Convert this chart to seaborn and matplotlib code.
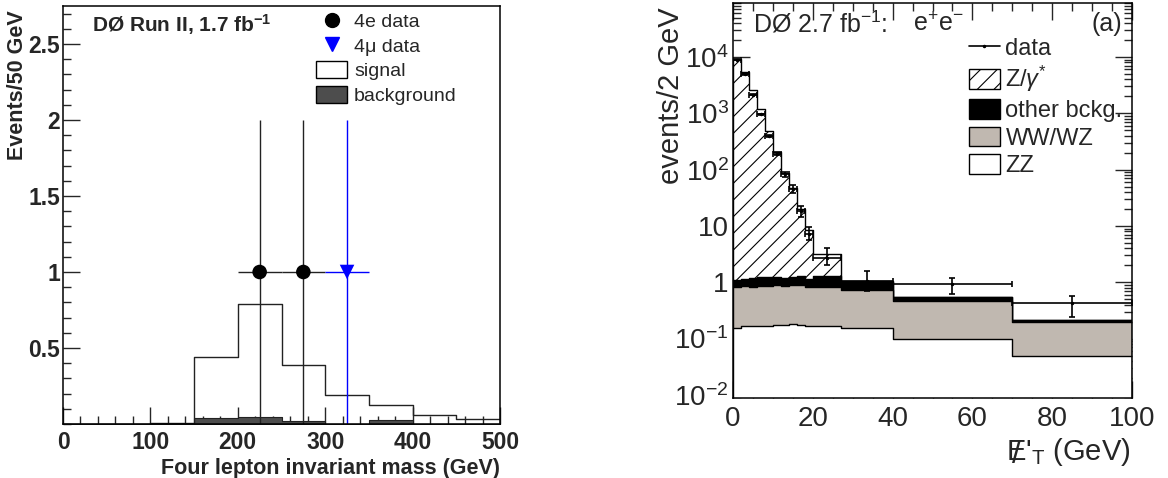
import numpy as np
import pandas as pd
import matplotlib
matplotlib.use("Agg")
import matplotlib.pyplot as plt
import seaborn as sns
from matplotlib.ticker import MultipleLocator, FixedLocator, LogLocator, FuncFormatter, NullFormatter
from matplotlib.patches import Patch
from matplotlib.lines import Line2D

# ---- left panel: four lepton invariant mass ----
mass_edges = [0, 50, 100, 150, 200, 250, 300, 350, 400, 450, 500]
signal = [0, 0, 0.006, 0.44, 0.79, 0.39, 0.19, 0.125, 0.06, 0.03]
background = [0, 0, 0, 0.037, 0.044, 0.022, 0, 0.024, 0, 0]
e4_mass = [225, 275]
e4_events = [1, 1]
mu4_mass = [325]
mu4_events = [1]

# ---- right panel: missing ET, ee channel ----
met_edges = [0, 2, 4, 6, 8, 10, 12, 14, 16, 18, 20, 27, 40, 70, 100]
zgamma = [9300, 5400, 2630, 1180, 490, 204, 86, 46, 19, 7.3, 1.9, 0.03, 0.005, 0.002]
other_bkg = [0.28, 0.30, 0.37, 0.39, 0.39, 0.37, 0.33, 0.37, 0.40, 0.31, 0.47, 0.29, 0.08, 0.015]
wwwz = [0.665, 0.685, 0.66, 0.695, 0.695, 0.705, 0.695, 0.70, 0.725, 0.67, 0.66, 0.575, 0.37, 0.15]
zz = [0.155, 0.165, 0.17, 0.165, 0.165, 0.175, 0.175, 0.18, 0.175, 0.17, 0.17, 0.155, 0.10, 0.05]
data_met = [9000, 4900, 2150, 960, 400, 193, 82, 45, 18.5, 7.3, 2.7, 1.05, 0.92, 0.42]
data_err_lo = [95, 70, 46, 31, 20, 14, 9, 7, 4, 1.7, 0.7, 0.36, 0.29, 0.175]
data_err_hi = [95, 70, 46, 31, 20, 14, 9, 8, 4.3, 2.3, 1.4, 0.52, 0.26, 0.155]

sns.set_theme(style="ticks")
plt.rcParams["font.family"] = ["Liberation Sans", "DejaVu Sans"]
plt.rcParams["mathtext.fontset"] = "custom"
plt.rcParams["mathtext.rm"] = "Liberation Sans"
plt.rcParams["mathtext.it"] = "Liberation Sans:italic"
plt.rcParams["mathtext.bf"] = "Liberation Sans:bold"
plt.rcParams["hatch.linewidth"] = 0.8

fig = plt.figure(figsize=(11.68, 4.78), dpi=100)
W, H = 1168, 478
axl = fig.add_axes([63 / W, 1 - 424 / H, 437 / W, 418 / H])
axr = fig.add_axes([733 / W, 1 - 398 / H, 399 / W, 395 / H])

# ---------------- left ----------------
mass_centers = 0.5 * (np.array(mass_edges[:-1]) + np.array(mass_edges[1:]))
sns.histplot(x=mass_centers, weights=signal, bins=mass_edges, element="step",
             fill=False, color="#222222", linewidth=1.0, ax=axl)
sns.histplot(x=mass_centers, weights=background, bins=mass_edges, element="step",
             fill=True, color="#4d4d4d", alpha=1, edgecolor="#222222", linewidth=0.8, ax=axl)

axl.errorbar(e4_mass, e4_events, xerr=25, yerr=1, fmt="none", ecolor="#222222", elinewidth=1.0)
axl.errorbar(mu4_mass, mu4_events, xerr=25, yerr=1, fmt="none", ecolor="#0000ff", elinewidth=1.0)
sns.scatterplot(x=e4_mass, y=e4_events, marker="o", s=110, color="black", edgecolor="none", ax=axl, zorder=5)
sns.scatterplot(x=mu4_mass, y=mu4_events, marker="v", s=110, color="#0000ff", edgecolor="none", ax=axl, zorder=5)

axl.set_xlim(0, 500)
axl.set_ylim(0, 2.75)
axl.xaxis.set_major_locator(MultipleLocator(100))
axl.xaxis.set_minor_locator(MultipleLocator(20))
axl.yaxis.set_major_locator(FixedLocator([0.5, 1, 1.5, 2, 2.5]))
axl.yaxis.set_minor_locator(MultipleLocator(0.1))
axl.yaxis.set_major_formatter(FuncFormatter(lambda v, p: f"{v:g}"))
axl.tick_params(which="both", direction="in", top=False, right=False, labelsize=16.5)
axl.tick_params(which="major", length=12, width=1, pad=5)
axl.tick_params(which="minor", length=6, width=1)
axl.tick_params(axis="y", pad=2)
for lab in axl.get_xticklabels() + axl.get_yticklabels():
    lab.set_fontweight("bold")
axl.set_xlabel("")
axl.set_ylabel("")
axl.xaxis.label.set_visible(False)
axl.yaxis.label.set_visible(False)
for sp in axl.spines.values():
    sp.set_linewidth(1.1)
    sp.set_color("black")

axl.text(0.066, 0.955, r"DØ Run II, 1.7 fb$^{\mathbf{-1}}$", transform=axl.transAxes,
         fontsize=15, fontweight="bold", va="center", ha="left")

left_handles = [
    Line2D([], [], linestyle="none", marker="o", markersize=10, color="black"),
    Line2D([], [], linestyle="none", marker="v", markersize=10, color="#0000ff"),
    Patch(facecolor="white", edgecolor="black", linewidth=1),
    Patch(facecolor="#4d4d4d", edgecolor="black", linewidth=1),
]
axl.legend(left_handles, ["4e data", "4\u03bc data", "signal", "background"],
           loc="upper left", bbox_to_anchor=(0.579, 0.985), frameon=False, fontsize=14,
           handlelength=1.6, handleheight=0.95, handletextpad=0.35, labelspacing=0.28,
           borderpad=0, borderaxespad=0)

fig.text(18 / W, 1 - 10 / H, "Events/50 GeV", rotation=90, ha="center", va="top",
         fontsize=15.5, fontweight="bold")
fig.text(500 / W, 1 - 474 / H, "Four lepton invariant mass (GeV)", ha="right", va="baseline",
         fontsize=15.5, fontweight="bold")

# ---------------- right ----------------
met_centers = 0.5 * (np.array(met_edges[:-1]) + np.array(met_edges[1:]))
met_half = 0.5 * np.diff(met_edges)
stack = pd.DataFrame({"ZZ": zz, "WW/WZ": wwwz, "other": other_bkg, "Z": zgamma}).cumsum(axis=1)

layers = [("Z", "white", "//"), ("other", "black", None), ("WW/WZ", "#c0b8b0", None), ("ZZ", "white", None)]
for name, col, hatch in layers:
    n0 = len(axr.collections)
    sns.histplot(x=met_centers, weights=stack[name].values, bins=met_edges, element="step",
                 fill=True, color=col, alpha=1, edgecolor="black", linewidth=1.0, ax=axr)
    if hatch:
        for c in axr.collections[n0:]:
            c.set_hatch(hatch)
            c.set_facecolor("white")
            c.set_edgecolor("black")

axr.errorbar(met_centers, data_met, xerr=met_half, yerr=[data_err_lo, data_err_hi],
             fmt=".", markersize=3, color="black", ecolor="black", elinewidth=1.2,
             capsize=2.5, capthick=1.2, zorder=6)

axr.set_yscale("log")
axr.set_xlim(0, 100)
axr.set_ylim(0.0088, 9.1e4)
axr.xaxis.set_major_locator(MultipleLocator(20))
axr.xaxis.set_minor_locator(MultipleLocator(5))
axr.yaxis.set_major_locator(LogLocator(base=10, numticks=20))
axr.yaxis.set_minor_locator(LogLocator(base=10, subs=np.arange(2, 10), numticks=20))
axr.yaxis.set_minor_formatter(NullFormatter())


def log_label(v, pos):
    e = int(round(np.log10(v)))
    if e == 0:
        return "1"
    if e == 1:
        return "10"
    return rf"$10^{{{e}}}$"


axr.yaxis.set_major_formatter(FuncFormatter(log_label))
axr.tick_params(which="both", direction="in", top=True, right=True, labelsize=20)
axr.tick_params(which="major", length=12, width=1)
axr.tick_params(which="minor", length=6, width=1)
axr.tick_params(axis="x", pad=6)
axr.tick_params(axis="y", pad=3)
axr.set_xlabel("")
axr.set_ylabel("")
axr.xaxis.label.set_visible(False)
axr.yaxis.label.set_visible(False)
for sp in axr.spines.values():
    sp.set_linewidth(1.1)
    sp.set_color("black")

axr.text(0.05, 0.947, r"DØ 2.7 fb$^{-1}$:", transform=axr.transAxes, fontsize=18,
         va="center", ha="left")
axr.text(0.451, 0.947, r"e$^{+}$e$^{-}$", transform=axr.transAxes, fontsize=18,
         va="center", ha="left")
axr.text(0.975, 0.947, "(a)", transform=axr.transAxes, fontsize=18, va="center", ha="right")

right_handles = [
    Line2D([], [], color="black", linewidth=1.2, marker=".", markersize=3),
    Patch(facecolor="white", edgecolor="black", hatch="//", linewidth=1),
    Patch(facecolor="black", edgecolor="black", linewidth=1),
    Patch(facecolor="#c0b8b0", edgecolor="black", linewidth=1),
    Patch(facecolor="white", edgecolor="black", linewidth=1),
]
axr.legend(right_handles, ["data", r"Z/$\gamma^{*}$", "other bckg.", "WW/WZ", "ZZ"],
           loc="upper left", bbox_to_anchor=(0.591, 0.915), frameon=False, fontsize=17,
           handlelength=1.3, handleheight=0.9, handletextpad=0.25, labelspacing=0.2,
           borderpad=0, borderaxespad=0)

fig.text(671 / W, 1 - 7 / H, "events/2 GeV", rotation=90, ha="center", va="top", fontsize=21)

# missing ET label: E with a slash drawn over it
xlab = fig.text(1131 / W, 1 - 460 / H, r"E$'_{\mathrm{T}}$ (GeV)", ha="right",
                va="baseline", fontsize=21)
renderer = fig.canvas.get_renderer()
bb = xlab.get_window_extent(renderer)
fig.text((bb.x0 + 10) / W, 1 - 463 / H, "/", ha="center", va="baseline", fontsize=23)

fig.savefig("out.png", dpi=100)
